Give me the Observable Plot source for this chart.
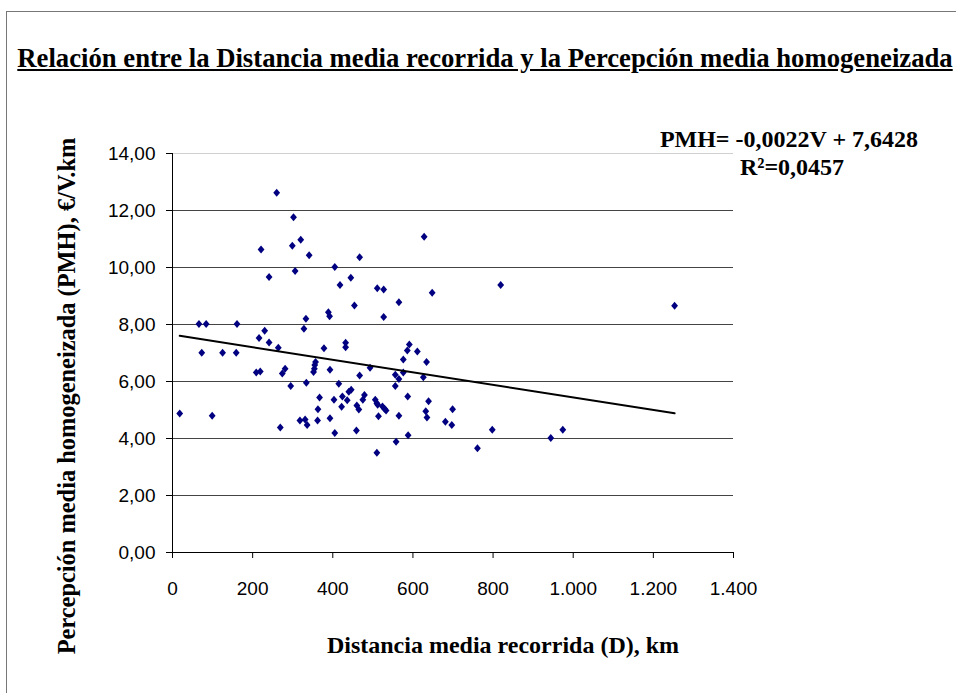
<!DOCTYPE html>
<html>
<head>
<meta charset="utf-8">
<script src="https://cdn.jsdelivr.net/npm/d3@7"></script>
<script src="https://cdn.jsdelivr.net/npm/@observablehq/plot@0.6"></script>
<style>
  body { margin: 0; background: #fff; }
  #wrap { position: relative; width: 956px; height: 693px; overflow: hidden; background: #fff; }
  #wrap svg { position: absolute; left: 0; top: 0; }
  .frame-top { position: absolute; left: 6px; top: 11px; right: 0; height: 0; border-top: 1px solid #777; }
  .frame-left { position: absolute; left: 6px; top: 11px; bottom: 0; width: 0; border-left: 1px solid #777; }
  .txt { position: absolute; font-family: "Liberation Serif", "Times New Roman", serif; font-weight: bold; color: #000; white-space: nowrap; text-align: center; }
  #title { left: 0; width: 970px; top: 42px; line-height: 32px; font-size: 26.7px; text-decoration: underline; }
  #eq1 { left: 589px; width: 400px; top: 125px; line-height: 28px; font-size: 24px; }
  #eq2 { left: 592px; width: 400px; top: 153px; line-height: 28px; font-size: 24px; }
  #xtitle { left: 203px; width: 600px; top: 630px; line-height: 30px; font-size: 24px; }
  #ytitle { left: -233px; width: 600px; top: 381px; line-height: 30px; font-size: 24.4px; transform: rotate(-90deg); }
</style>
</head>
<body>
<div id="wrap">
  <div class="frame-top"></div>
  <div class="frame-left"></div>
  <div id="title" class="txt">Relación entre la Distancia media recorrida y la Percepción media homogeneizada</div>
  <div id="eq1" class="txt">PMH= -0,0022V + 7,6428</div>
  <div id="eq2" class="txt">R²=0,0457</div>
  <div id="xtitle" class="txt">Distancia media recorrida (D), km</div>
  <div id="ytitle" class="txt">Percepción media homogeneizada (PMH), €/V.km</div>
</div>
<script>
// Distancia media recorrida (D), km
const distance = [
  260, 302, 221, 299, 320, 341, 467, 241, 306, 405, 418, 445, 454, 333, 389, 392,
  66, 84, 161, 328, 216, 230, 241, 264, 73, 125, 159, 378, 432, 432,
  357, 355, 354, 352, 393, 209, 219, 274, 281, 467, 334, 295, 415, 440, 446, 424,
  436, 367, 403, 363, 422, 460, 465, 18, 99, 393, 318, 331, 336, 362, 269, 405, 459,
  511, 527, 565, 527, 648, 819, 591, 586, 611, 576, 634, 493, 556, 565, 576, 626, 556,
  479, 475, 506, 510, 512, 524, 529, 533, 514, 565, 587, 639, 632, 635, 699, 681, 697,
  558, 588, 510, 761, 798, 944, 974, 1253, 628
];
// Percepción media homogeneizada (PMH), €/V.km
const pmh = [
  12.62, 11.76, 10.63, 10.76, 10.97, 10.43, 10.36, 9.67, 9.88, 10.02, 9.39, 9.64, 8.67, 8.20, 8.43, 8.29,
  8.02, 8.02, 8.02, 7.85, 7.53, 7.78, 7.37, 7.18, 7.01, 7.01, 7.01, 7.17, 7.36, 7.20,
  6.68, 6.58, 6.45, 6.33, 6.41, 6.32, 6.35, 6.28, 6.45, 6.21, 5.96, 5.84, 5.92, 5.64, 5.71, 5.47,
  5.34, 5.44, 5.36, 5.03, 5.11, 5.16, 5.02, 4.88, 4.80, 4.71, 4.63, 4.67, 4.47, 4.63, 4.39, 4.19, 4.28,
  9.27, 9.23, 8.78, 8.26, 9.11, 9.39, 7.30, 7.09, 7.05, 6.77, 6.68, 6.48, 6.24, 6.09, 6.32, 6.15, 5.84,
  5.53, 5.36, 5.36, 5.24, 5.18, 5.12, 5.04, 4.98, 4.78, 4.80, 5.47, 5.31, 4.96, 4.74, 5.03, 4.59, 4.47,
  3.89, 4.11, 3.50, 3.66, 4.31, 4.02, 4.31, 8.66, 11.08
];
// Trendline as printed on the chart: PMH = -0,0022 V + 7,6428
const trendCoef = [-0.0022, 7.6428];
const xTicks = [0, 200, 400, 600, 800, 1000, 1200, 1400];
const yTicks = [0, 2, 4, 6, 8, 10, 12, 14];

const points = distance.map((d, i) => ({d, p: pmh[i]}));
const trend = d3.extent(distance).map(x => ({x, y: trendCoef[1] + trendCoef[0] * x}));

const esLocale = d3.formatLocale({decimal: ",", thousands: ".", grouping: [3], currency: ["", " €"]});
const fmtX = esLocale.format(",");
const fmtY = d => d.toFixed(2).replace(".", ",");

const diamond = {
  draw(ctx, size) {
    const r = Math.sqrt(size / Math.PI);
    ctx.moveTo(0, -r);
    ctx.lineTo(r * 0.85, 0);
    ctx.lineTo(0, r);
    ctx.lineTo(-r * 0.85, 0);
    ctx.closePath();
  }
};

const chart = Plot.plot({
  width: 956,
  height: 693,
  marginLeft: 172,
  marginRight: 223,
  marginTop: 153,
  marginBottom: 141,
  x: {domain: [0, 1400]},
  y: {domain: [0, 14]},
  style: {fontFamily: "'Liberation Sans', Arial, sans-serif", fontSize: "19px", color: "#000", background: "transparent", overflow: "visible"},
  marks: [
    Plot.ruleY(yTicks.filter(v => v > 0 && v < 14), {stroke: "#444", strokeWidth: 1}),
    Plot.ruleY(yTicks.filter(v => v === 14), {stroke: "#d0d0d0", strokeWidth: 1}),
    Plot.dot(points, {x: "d", y: "p", symbol: diamond, r: 4, fill: "#000080"}),
    Plot.line(trend, {x: "x", y: "y", stroke: "#000", strokeWidth: 2}),
    Plot.ruleX([0], {stroke: "#000", strokeWidth: 1}),
    Plot.ruleY([0], {stroke: "#000", strokeWidth: 1}),
    Plot.axisY({ticks: yTicks, tickFormat: fmtY, tickSize: 6, tickPadding: 11, fontSize: 19, label: null}),
    Plot.axisX({ticks: xTicks, tickFormat: fmtX, tickSize: 6, tickPadding: 23, fontSize: 19, label: null})
  ]
});
document.getElementById("wrap").appendChild(chart);
</script>
</body>
</html>
